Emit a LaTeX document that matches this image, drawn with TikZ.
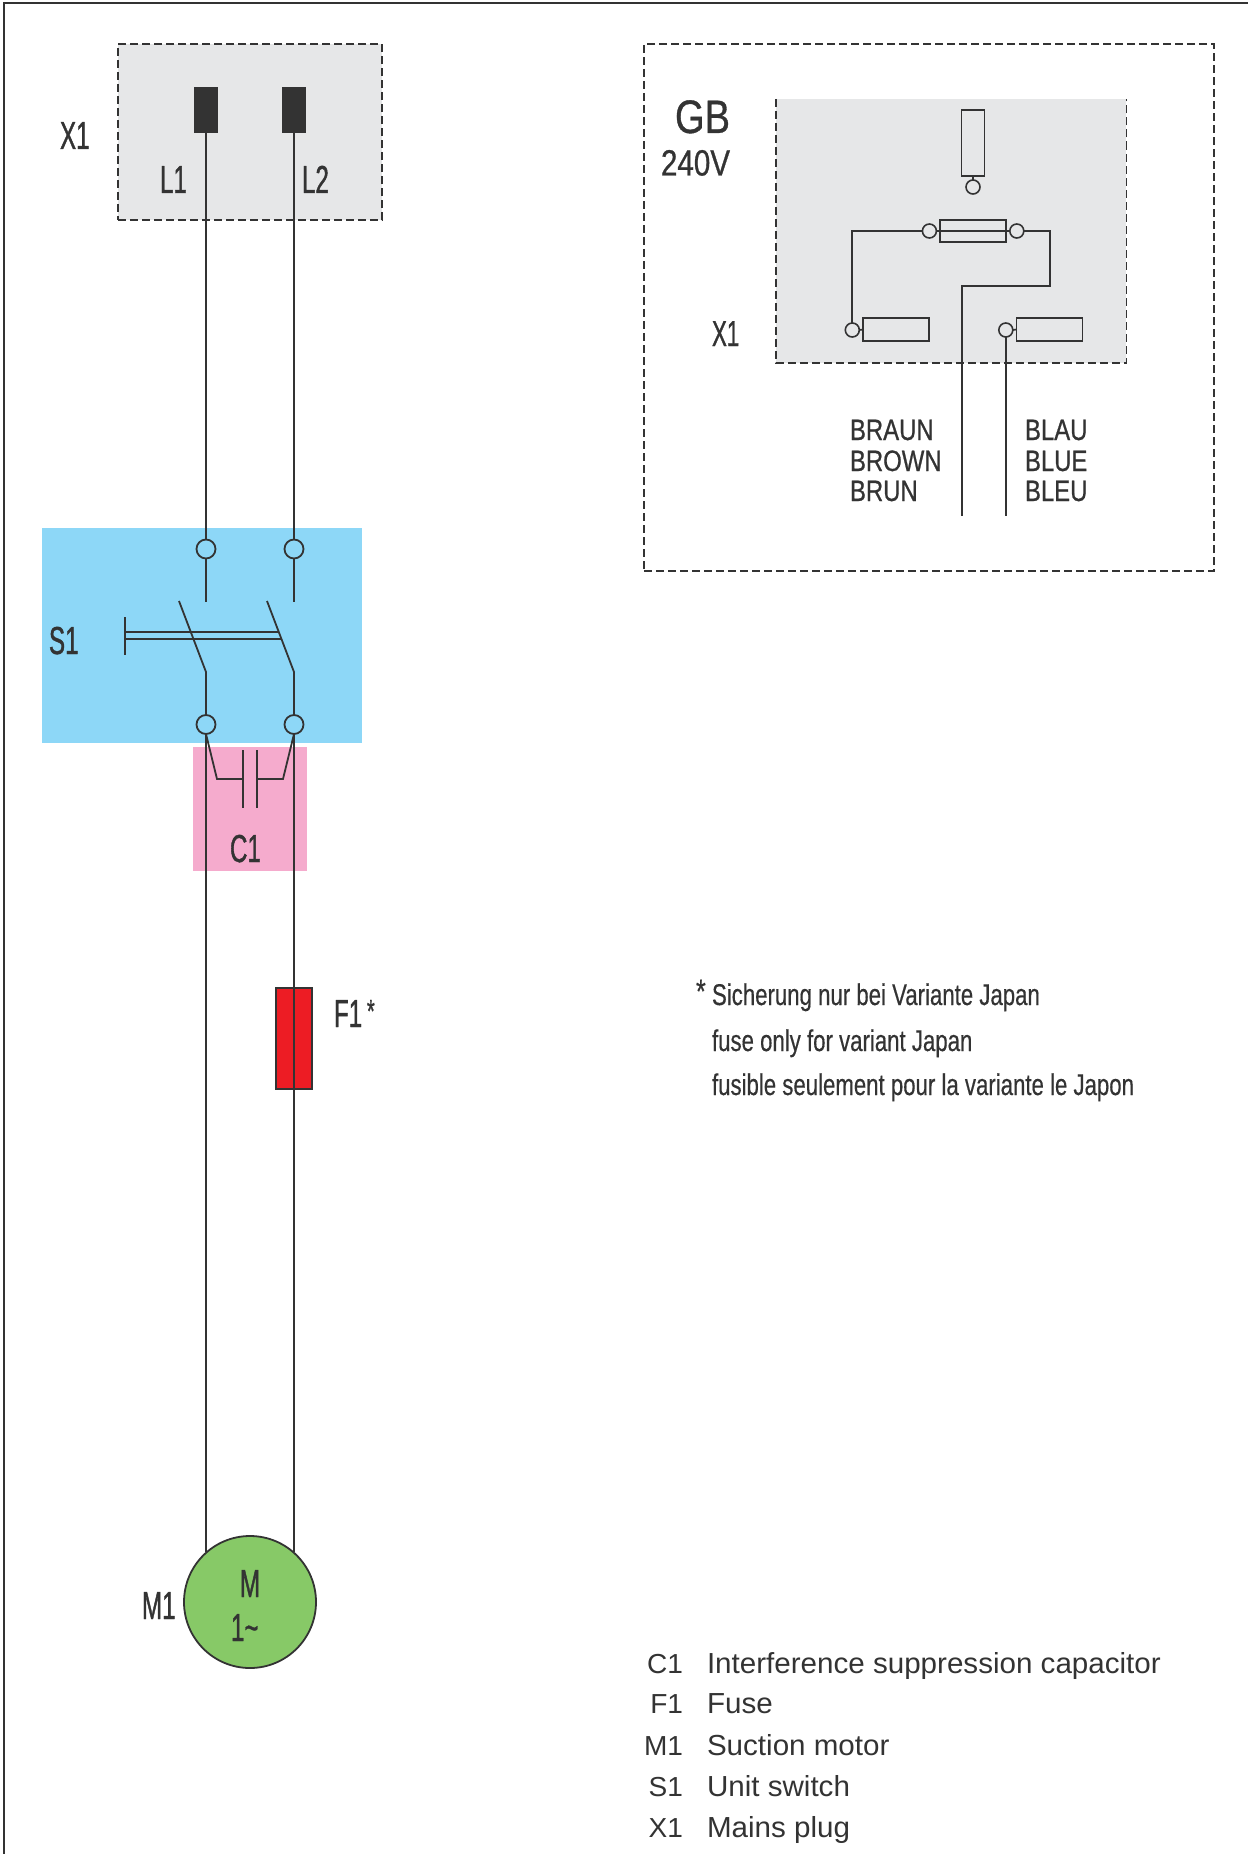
\documentclass[tikz,border=0pt]{standalone}
\usepackage{fontspec}
\setmainfont{Liberation Sans}
\newfontfamily\narrowf[FakeStretch=0.62,FakeBold=1.0]{Liberation Sans}
\newfontfamily\midf[FakeStretch=0.81,FakeBold=0.7]{Liberation Sans}
\newfontfamily\notef[FakeStretch=0.74,FakeBold=0.4]{Liberation Sans}
\newfontfamily\legf[FakeStretch=1.02]{Liberation Sans}
\definecolor{ink}{HTML}{333333}
\definecolor{greybg}{HTML}{E6E7E8}
\definecolor{bluebg}{HTML}{8DD7F7}
\definecolor{pinkbg}{HTML}{F5ABCD}
\definecolor{fusered}{HTML}{ED1C24}
\definecolor{motorgreen}{HTML}{87C967}
\tikzset{
  wire/.style={draw=ink,line width=1.8pt,line join=miter},
  thinwire/.style={draw=ink,line width=1.7pt},
  dashbox/.style={draw=ink,line width=1.5pt,dash pattern=on 8pt off 4pt},
  term/.style={circle,draw=ink,line width=1.8pt,minimum size=19pt,inner sep=0pt,outer sep=0pt},
  smallterm/.style={circle,draw=ink,line width=1.6pt,minimum size=14pt,inner sep=0pt,outer sep=0pt},
  area/.style={rectangle,inner sep=0pt,outer sep=0pt},
  pin/.style={rectangle,fill=ink,inner sep=0pt,outer sep=0pt},
  openbox/.style={rectangle,draw=ink,line width=1.6pt,inner sep=0pt,outer sep=0pt},
  lbl/.style={anchor=base west,inner sep=0pt,outer sep=0pt,text=ink},
  big/.style={lbl,font=\narrowf\fontsize{39}{39}\selectfont},
  small/.style={lbl,font=\narrowf\fontsize{36}{36}\selectfont},
  gbl/.style={lbl,font=\midf\fontsize{47}{47}\selectfont},
  volt/.style={lbl,font=\midf\fontsize{36.5}{36.5}\selectfont},
  colour/.style={lbl,font=\midf\fontsize{29.5}{29.5}\selectfont},
  note/.style={lbl,font=\notef\fontsize{30}{30}\selectfont},
  legkey/.style={anchor=base east,inner sep=0pt,outer sep=0pt,text=ink,font=\legf\fontsize{27.5}{27.5}\selectfont},
  legtext/.style={anchor=base west,inner sep=0pt,outer sep=0pt,text=ink,font=\legf\fontsize{29}{29}\selectfont},
}
\begin{document}
\begin{tikzpicture}[x=1pt,y=-1pt]
\useasboundingbox (0,0) rectangle (1248,1854);
\coordinate (fa) at (4,1854); \coordinate (fb) at (4,3); \coordinate (fc) at (1248,3);
\draw[thinwire] (fa) -- (fb) -- (fc);

% backgrounds
\node[area,fill=greybg,dashbox,minimum width=264pt,minimum height=176pt] (plugbox) at (250,132) {};
\node[area,fill=bluebg,minimum width=320pt,minimum height=215pt] (s1area) at (202,635.5) {};
\node[area,fill=pinkbg,minimum width=114pt,minimum height=124pt] (c1area) at (250,809) {};

% plug
\node[pin,minimum width=24pt,minimum height=46pt] (pa) at (206,110) {};
\node[pin,minimum width=24pt,minimum height=46pt] (pb) at (294,110) {};
\node[big] (x1a) at (60,149) {X1};
\node[big] (l1) at (160,193) {L1};
\node[big] (l2) at (302,193) {L2};

% switch
\node[term] (ua) at (206,549) {};
\node[term] (ub) at (294,549) {};
\node[term] (la) at (206,724.5) {};
\node[term] (lb) at (294,724.5) {};
\draw[wire] (pa.south) -- (ua.north);
\draw[wire] (pb.south) -- (ub.north);
\coordinate (sa) at (206,602); \coordinate (sb) at (294,602);
\coordinate (ha) at (206,672); \coordinate (hb) at (294,672);
\coordinate (ta) at (179,601); \coordinate (tb) at (267,601);
\draw[wire] (ua.south) -- (sa);
\draw[wire] (ub.south) -- (sb);
\draw[wire] (la.north) -- (ha) -- (ta);
\draw[wire] (lb.north) -- (hb) -- (tb);
\coordinate (bt) at (125,617); \coordinate (bb) at (125,655);
\coordinate (b1l) at (125,632); \coordinate (b1r) at (279,632);
\coordinate (b2l) at (125,639); \coordinate (b2r) at (281,639);
\draw[wire] (bt) -- (bb);
\draw[wire] (b1l) -- (b1r);
\draw[wire] (b2l) -- (b2r);
\node[big] (s1) at (49,654) {S1};

% capacitor
\coordinate (p1t) at (243,750); \coordinate (p1b) at (243,808);
\coordinate (p2t) at (257,750); \coordinate (p2b) at (257,808);
\coordinate (p1m) at (243,779); \coordinate (p2m) at (257,779);
\coordinate (ka) at (217,779); \coordinate (kb) at (283,779);
\draw[wire] (p1t) -- (p1b);
\draw[wire] (p2t) -- (p2b);
\draw[wire] (la.south) -- (ka) -- (p1m);
\draw[wire] (lb.south) -- (kb) -- (p2m);
\node[big] (c1) at (230,862) {C1};

% motor wires
\coordinate (ma) at (206,1552); \coordinate (mb) at (294,1552);
\draw[wire] (la.south) -- (ma);
\draw[wire] (lb.south) -- (mb);

% fuse
\node[area,fill=fusered,draw=ink,line width=1.8pt,minimum width=36pt,minimum height=101pt] (fuse) at (294,1038.5) {};
\coordinate (fuset) at (fuse.north); \coordinate (fuseb) at (fuse.south);
\draw[wire] (fuset) -- (fuseb);
\node[big] (f1) at (334,1027) {F1};
\node[lbl,font=\narrowf\fontsize{32}{32}\selectfont] (f1s) at (367,1022) {*};

% motor
\node[circle,fill=motorgreen,draw=ink,line width=1.8pt,minimum size=132pt,inner sep=0pt,outer sep=0pt] (motor) at (250,1602) {};
\node[big,anchor=base] (mm) at (250,1597) {M};
\node[big] (mw) at (231,1641) {1\textasciitilde};
\node[big] (m1) at (142,1619) {M1};

% GB inset
\node[area,dashbox,minimum width=570pt,minimum height=527pt] (gbbox) at (929,307.5) {};
\node[area,fill=greybg,minimum width=350.5pt,minimum height=264pt] (gbgrey) at (951.2,231) {};
\draw[dashbox] (gbgrey.north west) -- (gbgrey.south west) -- (gbgrey.south east) -- (gbgrey.north east);
\node[gbl] (gb) at (675,133) {GB};
\node[volt] (v240) at (661,175.5) {240V};
\node[small] (x1b) at (712,346) {X1};

\node[openbox,minimum width=23pt,minimum height=66pt] (earth) at (973,143) {};
\node[smallterm] (ec) at (973,187) {};
\draw[thinwire] (earth.south) -- (ec.north);

\node[openbox,minimum width=66pt,minimum height=22pt] (gf) at (973,231) {};
\node[smallterm] (gfa) at (929.4,231) {};
\node[smallterm] (gfb) at (1016.8,231) {};
\draw[thinwire] (gfa.east) -- (gfb.west);

\node[openbox,minimum width=66pt,minimum height=23pt] (rl) at (896.2,329.5) {};
\node[openbox,minimum width=66pt,minimum height=23pt] (rr) at (1049.4,329.5) {};
\node[smallterm] (cl) at (852.3,330) {};
\node[smallterm] (cr) at (1005.8,330) {};
\draw[thinwire] (cl.east) -- (rl.west);
\draw[thinwire] (cr.east) -- (rr.west);

\coordinate (w1) at (852.3,231);
\draw[thinwire] (gfa.west) -- (w1) -- (cl.north);
\coordinate (w2) at (1049.8,231); \coordinate (w3) at (1049.8,285.7);
\coordinate (w4) at (962,285.7); \coordinate (w5) at (962,516);
\draw[thinwire] (gfb.east) -- (w2) -- (w3) -- (w4) -- (w5);
\coordinate (w6) at (1005.8,516);
\draw[thinwire] (cr.south) -- (w6);

\node[colour] (br1) at (850,440) {BRAUN};
\node[colour] (br2) at (850,471) {BROWN};
\node[colour] (br3) at (850,501) {BRUN};
\node[colour] (bl1) at (1025,440) {BLAU};
\node[colour] (bl2) at (1025,471) {BLUE};
\node[colour] (bl3) at (1025,501) {BLEU};

% note
\node[lbl,font=\notef\fontsize{34}{34}\selectfont] (st) at (696,1003) {*};
\node[note] (n1) at (712,1005) {Sicherung nur bei Variante Japan};
\node[note] (n2) at (712,1051) {fuse only for variant Japan};
\node[note] (n3) at (712,1095) {fusible seulement pour la variante le Japon};

% legend
\node[legkey] (k1) at (683,1673.4) {C1};
\node[legtext] (t1) at (707,1673.4) {Interference suppression capacitor};
\node[legkey] (k2) at (683,1713.7) {F1};
\node[legtext] (t2) at (707,1713.7) {Fuse};
\node[legkey] (k3) at (683,1755.4) {M1};
\node[legtext] (t3) at (707,1755.4) {Suction motor};
\node[legkey] (k4) at (683,1796.4) {S1};
\node[legtext] (t4) at (707,1796.4) {Unit switch};
\node[legkey] (k5) at (683,1837.4) {X1};
\node[legtext] (t5) at (707,1837.4) {Mains plug};
\end{tikzpicture}
\end{document}
